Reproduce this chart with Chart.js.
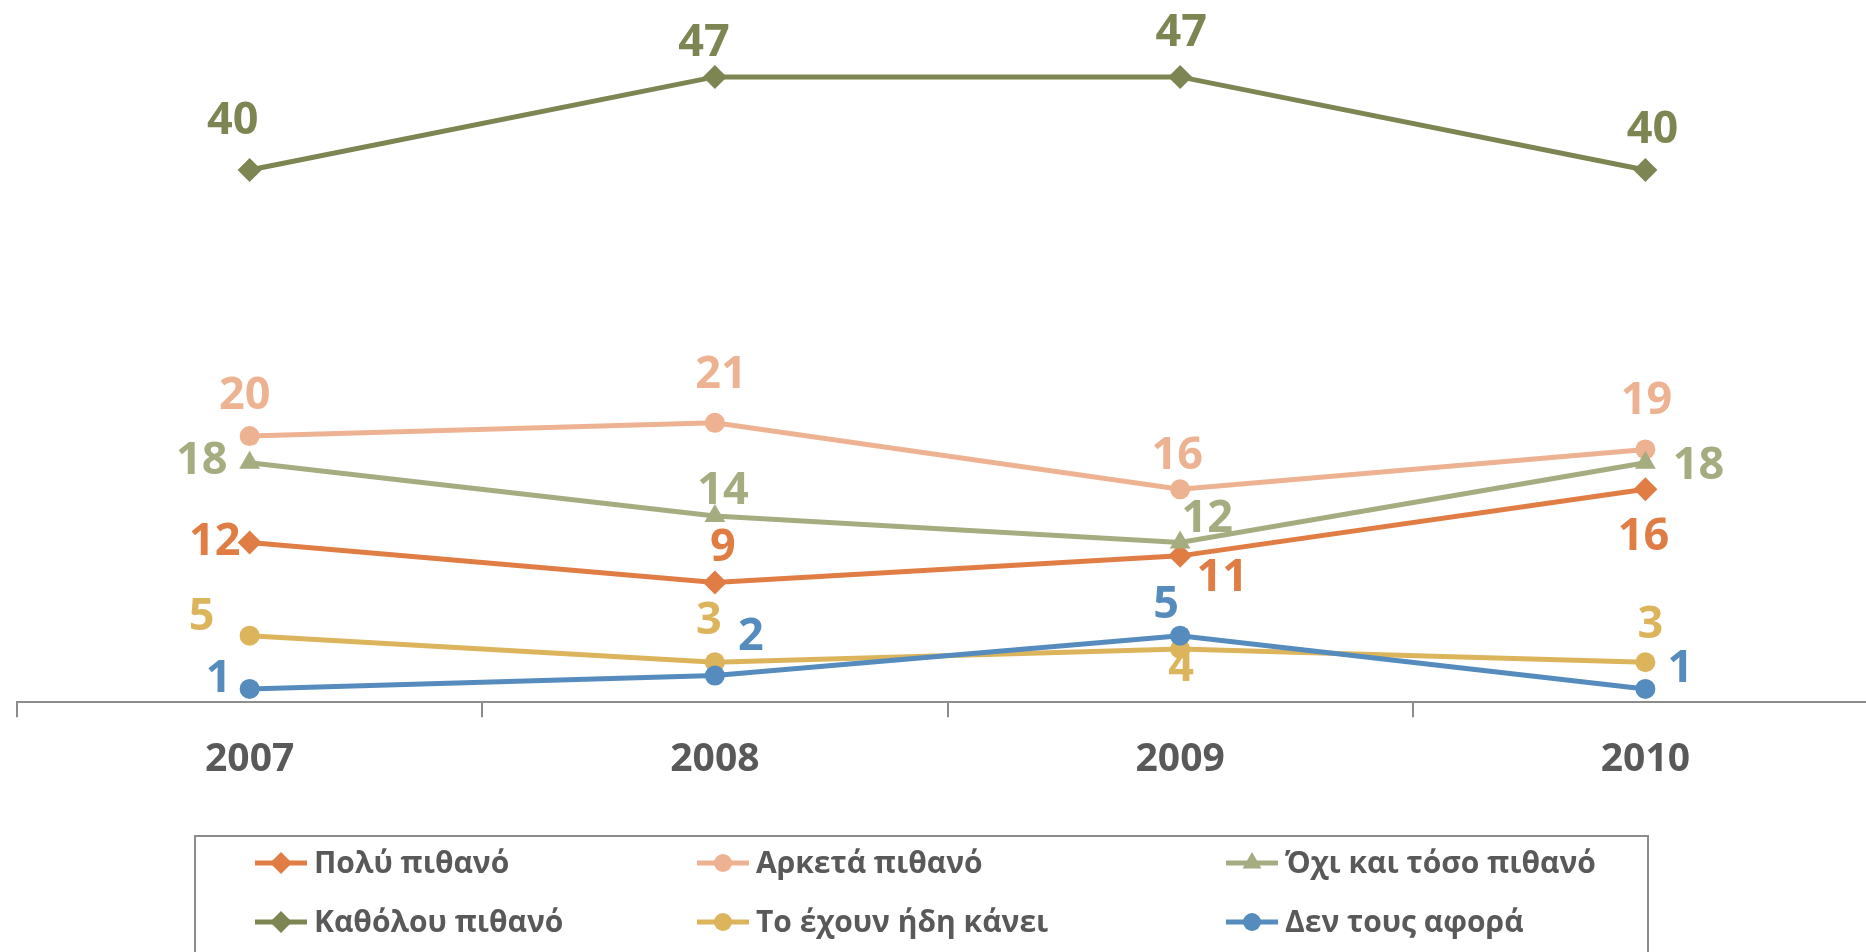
<!DOCTYPE html>
<html>
<head>
<meta charset="utf-8">
<script src="https://cdn.jsdelivr.net/npm/chart.js@4"></script>
<style>
  html, body { margin: 0; padding: 0; background: #fff; overflow: hidden; }
  #wrap { width: 1866px; height: 952px; position: relative; overflow: hidden; }
</style>
</head>
<body>
<div id="wrap"><canvas id="chart" width="1890" height="952"></canvas></div>
<script>
const years = ['2007', '2008', '2009', '2010'];
const seriesNames = ['Πολύ πιθανό', 'Αρκετά πιθανό', 'Όχι και τόσο πιθανό', 'Καθόλου πιθανό', 'Το έχουν ήδη κάνει', 'Δεν τους αφορά'];
const veryLikely = [12, 9, 11, 16];
const quiteLikely = [20, 21, 16, 19];
const notSoLikely = [18, 14, 12, 18];
const notAtAll = [40, 47, 47, 40];
const alreadyDone = [5, 3, 4, 3];
const notConcerned = [1, 2, 5, 1];

const colors = ['#E07D45', '#EDB292', '#A5AC80', '#7D8652', '#DBB45C', '#558CBD'];
const markers = ['rectRot', 'circle', 'triangle', 'rectRot', 'circle', 'circle'];
const values = [veryLikely, quiteLikely, notSoLikely, notAtAll, alreadyDone, notConcerned];

// where each value label sits relative to its point (dx, dy)
const labelOffsets = [
  [[-35, 0], [8, -34], [42, 22], [-2, 48]],
  [[-5, -40], [6, -48], [-3, -33], [1, -48]],
  [[-48, -2], [8, -25], [27, -23], [53, 3]],
  [[-17, -49], [-11, -34], [1, -44], [7, -40]],
  [[-48, -18], [-6, -41], [1, 19], [5, -37]],
  [[-31, -10], [36, -38], [-14, -30], [35, -20]]
];

const FONT = '"Open Sans", "Liberation Sans", sans-serif';

const valueLabels = {
  id: 'valueLabels',
  afterDatasetsDraw(chart) {
    const ctx = chart.ctx;
    ctx.save();
    ctx.font = 'bold 45px ' + FONT;
    ctx.textAlign = 'center';
    ctx.textBaseline = 'middle';
    chart.data.datasets.forEach((ds, i) => {
      const meta = chart.getDatasetMeta(i);
      meta.data.forEach((pt, j) => {
        const off = labelOffsets[i][j];
        ctx.fillStyle = ds.borderColor;
        ctx.fillText(String(ds.data[j]), pt.x + off[0], pt.y + off[1]);
      });
    });
    ctx.restore();
  }
};

// Excel style boxed legend in three columns
const boxLegend = {
  id: 'boxLegend',
  afterDraw(chart) {
    const ctx = chart.ctx;
    const colX = [255, 697, 1226];
    const rowY = [863, 922];
    ctx.save();
    ctx.strokeStyle = '#8C8C8C';
    ctx.lineWidth = 2;
    ctx.strokeRect(195, 836, 1453, 140);
    ctx.font = 'bold 30px ' + FONT;
    ctx.textBaseline = 'middle';
    ctx.textAlign = 'left';
    chart.data.datasets.forEach((ds, i) => {
      const x = colX[i % 3];
      const y = rowY[Math.floor(i / 3)];
      ctx.strokeStyle = ds.borderColor;
      ctx.lineWidth = 5;
      ctx.beginPath();
      ctx.moveTo(x, y);
      ctx.lineTo(x + 52, y);
      ctx.stroke();
      ctx.fillStyle = ds.borderColor;
      Chart.helpers.drawPoint(ctx, {
        pointStyle: ds.pointStyle,
        radius: ds.pointStyle === 'circle' ? 9 : 11,
        borderWidth: 0
      }, x + 26, y);
      ctx.fillStyle = '#595959';
      ctx.fillText(ds.label, x + 59, y + 1);
    });
    ctx.restore();
  }
};

new Chart(document.getElementById('chart'), {
  type: 'line',
  data: {
    labels: years,
    datasets: seriesNames.map((name, i) => ({
      label: name,
      data: values[i],
      borderColor: colors[i],
      backgroundColor: colors[i],
      pointBackgroundColor: colors[i],
      pointBorderColor: colors[i],
      borderWidth: 5,
      pointStyle: markers[i],
      pointRadius: markers[i] === 'circle' ? 10 : 12,
      pointBorderWidth: 0,
      tension: 0,
      order: seriesNames.length - i
    }))
  },
  options: {
    responsive: false,
    animation: false,
    layout: { padding: { left: 17, right: 0, top: 37, bottom: 150 } },
    plugins: {
      legend: { display: false },
      tooltip: { enabled: false }
    },
    scales: {
      x: {
        offset: true,
        grid: {
          offset: true,
          drawOnChartArea: false,
          drawTicks: true,
          tickLength: 15,
          color: '#8C8C8C',
          lineWidth: 2
        },
        border: { display: true, color: '#8C8C8C', width: 2 },
        ticks: {
          color: '#595959',
          padding: 19,
          font: { family: FONT, size: 39, weight: 'bold' }
        }
      },
      y: {
        display: false,
        min: 0,
        max: 50
      }
    }
  },
  plugins: [valueLabels, boxLegend]
});
</script>
</body>
</html>
